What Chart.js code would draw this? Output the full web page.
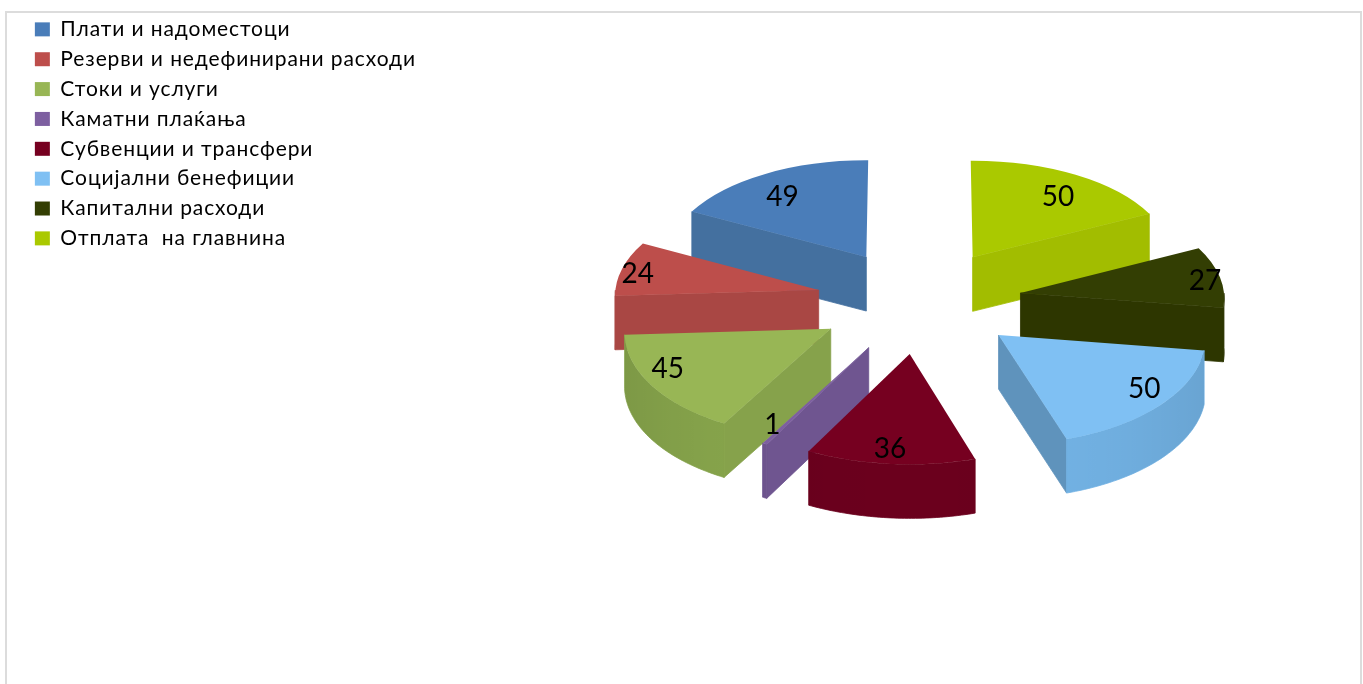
<!DOCTYPE html>
<html>
<head>
<meta charset="utf-8">
<title>Расходи</title>
<script src="https://cdn.jsdelivr.net/npm/chart.js@4/dist/chart.umd.js"></script>
<style>
    html, body { margin: 0; padding: 0; background: #fff; overflow: hidden; }
    #frame { position: absolute; left: 5px; top: 11px; width: 1353px; height: 700px; border: 2px solid #dcdcdc; }
    #myChart { position: absolute; left: 0; top: 0; }
</style>
</head>
<body>
<div id="frame"></div>
<canvas id="myChart" width="1363" height="684"></canvas>
<script>
    // legend order, goes counter clockwise round the pie from 12 o'clock
    const categories = ['Плати и надоместоци', 'Резерви и недефинирани расходи', 'Стоки и услуги', 'Каматни плаќања',
        'Субвенции и трансфери', 'Социјални бенефиции', 'Капитални расходи', 'Отплата  на главнина'];
    const values = [49, 24, 45, 1, 36, 50, 27, 50];

    const topColors = ['#4a7db9', '#bd4e4b', '#98b655', '#7d5fa0', '#760020', '#7fc0f3', '#333e03', '#aac900'];
    const rimColors = ['#44709f', '#a94744', '#88a64c', '#6f5590', '#6b001d', '#72b2e4', '#2d3600', '#a2bd00'];
    const sideColors = ['#44709f', '#a94744', '#86a24b', '#6f5590', '#6b001d', '#5f93bc', '#2d3600', '#a2bd00'];

    // how far along its slice each number sits, then a small push in pixels
    const labelReach = [0.8, 0.91, 0.88, 0.85, 0.86, 0.86, 0.9, 0.8];
    const labelNudgeX = [-3, -2, -6, -8, -3, 7, 5, 3];
    const labelNudgeY = [6, 3, -10, -4, 0, -7, 2, 6];

    const fontName = 'Lato, "Open Sans", sans-serif';
    const centre = { x: 919, y: 301 };
    const radius = 204;
    const flat = 0.507;
    const perspective = 0.035;
    const explode = 103;
    const depth = 54;

    // chart.js goes clockwise, so the slices are fed in reverse
    const flip = list => [...list].reverse();

    // ground plane of the pie to the screen, things nearer the viewer get bigger
    function project(u, v) {
        const q = 1 + perspective * v / radius;
        return { x: centre.x + u * q, y: centre.y + flat * v * q };
    }

    // canvas can only do affine, so each slice gets the one that fits its three corners
    function placeSlice(arc) {
        const a = arc.startAngle, b = arc.endAngle, r = arc.outerRadius;
        const mid = (a + b) / 2;
        const du = Math.cos(mid) * explode, dv = Math.sin(mid) * explode;
        const sx = r * Math.cos(a), sy = r * Math.sin(a);
        const ex = r * Math.cos(b), ey = r * Math.sin(b);
        const apex = project(du, dv);
        const ps = project(du + sx, dv + sy);
        const pe = project(du + ex, dv + ey);
        const det = sx * ey - ex * sy;
        return {
            mid: mid,
            r: r,
            apex: apex,
            m: [
                ((ps.x - apex.x) * ey - (pe.x - apex.x) * sy) / det,
                ((ps.y - apex.y) * ey - (pe.y - apex.y) * sy) / det,
                ((pe.x - apex.x) * sx - (ps.x - apex.x) * ex) / det,
                ((pe.y - apex.y) * sx - (ps.y - apex.y) * ex) / det
            ]
        };
    }

    function rimPoint(place, angle, r) {
        const x = Math.cos(angle) * r, y = Math.sin(angle) * r;
        return {
            x: place.apex.x + place.m[0] * x + place.m[2] * y,
            y: place.apex.y + place.m[1] * x + place.m[3] * y
        };
    }

    function drawSide(ctx, place, angle, color) {
        const p = rimPoint(place, angle, place.r);
        ctx.fillStyle = color;
        ctx.strokeStyle = color;
        ctx.lineWidth = 0.8;
        ctx.beginPath();
        ctx.moveTo(place.apex.x, place.apex.y);
        ctx.lineTo(p.x, p.y);
        ctx.lineTo(p.x, p.y + depth);
        ctx.lineTo(place.apex.x, place.apex.y + depth);
        ctx.closePath();
        ctx.fill();
        ctx.stroke();
    }

    function drawRim(ctx, place, from, to, color) {
        const steps = 48;
        const upper = [];
        for (let i = 0; i <= steps; i++) {
            upper.push(rimPoint(place, from + (to - from) * i / steps, place.r));
        }
        ctx.beginPath();
        upper.forEach((p, i) => i ? ctx.lineTo(p.x, p.y) : ctx.moveTo(p.x, p.y));
        upper.slice().reverse().forEach(p => ctx.lineTo(p.x, p.y + depth));
        ctx.closePath();
        ctx.fillStyle = color;
        ctx.strokeStyle = color;
        ctx.lineWidth = 0.8;
        ctx.fill();
        ctx.stroke();

        // walls go a bit darker where they turn away at the sides
        const x0 = upper[0].x, x1 = upper[steps].x;
        if (Math.abs(x1 - x0) < 1) return;
        const shade = ctx.createLinearGradient(x0, 0, x1, 0);
        for (let i = 0; i <= 8; i++) {
            const angle = from + (to - from) * i / 8;
            const px = rimPoint(place, angle, place.r).x;
            const alpha = 0.08 * Math.cos(angle) * Math.cos(angle);
            shade.addColorStop(Math.min(1, Math.max(0, (px - x0) / (x1 - x0))), 'rgba(0,0,0,' + alpha.toFixed(3) + ')');
        }
        ctx.fillStyle = shade;
        ctx.fill();
    }

    const pie3d = {
        id: 'pie3d',
        beforeLayout(chart) {
            // the legend text is spaced wide in the original, has to be set before the legend measures it
            chart.ctx.letterSpacing = '0.9px';
        },
        beforeDraw(chart) {
            chart.ctx.letterSpacing = '0.9px';
        },
        beforeDatasetsDraw(chart) {
            const ctx = chart.ctx;
            const arcs = chart.getDatasetMeta(0).data;
            const sides = flip(sideColors);
            const rims = flip(rimColors);
            const reach = flip(labelReach);
            const nudgeX = flip(labelNudgeX);
            const nudgeY = flip(labelNudgeY);
            const shown = flip(values);

            const midSin = arc => Math.sin((arc.startAngle + arc.endAngle) / 2);
            const order = arcs.map((arc, i) => i);
            order.sort((a, b) => midSin(arcs[a]) - midSin(arcs[b]));

            order.forEach(i => {
                const arc = arcs[i];
                const place = placeSlice(arc);

                if (Math.cos(arc.startAngle) < 0) drawSide(ctx, place, arc.startAngle, sides[i]);
                if (Math.cos(arc.endAngle) > 0) drawSide(ctx, place, arc.endAngle, sides[i]);

                const from = Math.max(arc.startAngle, 0);
                const to = Math.min(arc.endAngle, Math.PI);
                if (to > from) drawRim(ctx, place, from, to, rims[i]);

                ctx.save();
                ctx.transform(place.m[0], place.m[1], place.m[2], place.m[3], place.apex.x, place.apex.y);
                ctx.translate(-arc.x, -arc.y);
                arc.draw(ctx);
                ctx.restore();
            });

            ctx.save();
            ctx.letterSpacing = '0px';
            ctx.fillStyle = '#000';
            ctx.font = '28px ' + fontName;
            ctx.textAlign = 'center';
            ctx.textBaseline = 'middle';
            arcs.forEach((arc, i) => {
                const place = placeSlice(arc);
                const p = rimPoint(place, place.mid, arc.outerRadius * reach[i]);
                ctx.fillText(shown[i], p.x + nudgeX[i], p.y + nudgeY[i]);
            });
            ctx.restore();

            return false;
        }
    };

    new Chart(document.getElementById('myChart'), {
        type: 'pie',
        plugins: [pie3d],
        data: {
            labels: flip(categories),
            datasets: [{
                data: flip(values),
                backgroundColor: flip(topColors),
                borderWidth: 0,
                hoverOffset: 0,
                offset: 0
            }]
        },
        options: {
            responsive: false,
            animation: false,
            radius: radius,
            layout: { padding: { left: 26, top: 10, right: 0, bottom: 0 } },
            plugins: {
                tooltip: { enabled: false },
                legend: {
                    position: 'left',
                    align: 'start',
                    reverse: true,
                    labels: {
                        boxWidth: 15,
                        boxHeight: 14,
                        padding: 8.86,
                        color: '#000',
                        font: { family: fontName, size: 21 }
                    }
                }
            }
        }
    });
</script>
</body>
</html>
